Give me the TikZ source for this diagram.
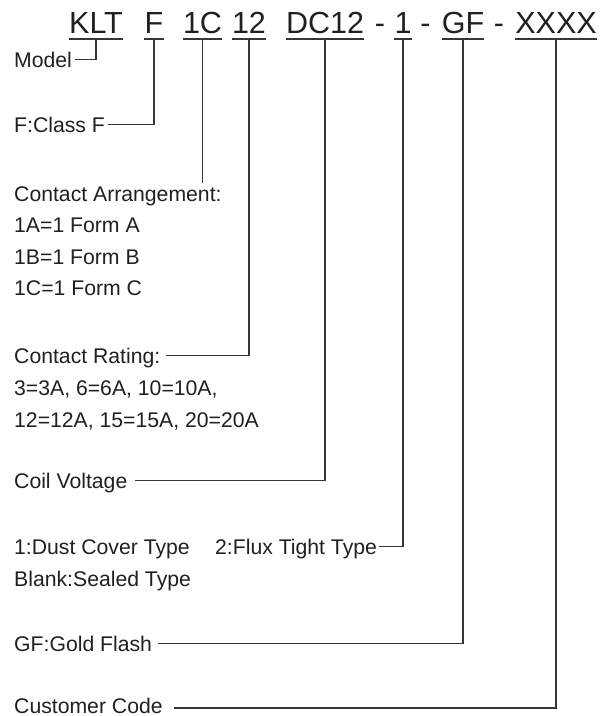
\documentclass[tikz,border=0pt]{standalone}
\usepackage{fontspec}
\setmainfont{Liberation Sans}
\usepackage{xcolor}
\usetikzlibrary{positioning}
\definecolor{ink}{HTML}{231F20}

\begin{document}
\begin{tikzpicture}[x=1pt, y=-1pt,
  code/.style={inner sep=0pt, anchor=base, text=ink, font=\fontsize{30.5}{36}\selectfont},
  desc/.style={inner sep=0pt, anchor=base west, text=ink, font=\fontsize{21.2}{25}\selectfont},
  lead/.style={line width=1.1pt, draw=ink!90},
]
\useasboundingbox (0,0) rectangle (612,716);
% part number
\node[code] (klt)  at (96,33)    {KLT};
\node[code] (cls)  at (154,33)   {F};
\node[code] (arr)  at (202.5,33) {1C};
\node[code] (rat)  at (249,33)   {12};
\node[code] (coil) at (325,33)   {DC12};
\node[code] (dsh1) at (380,33)   {-};
\node[code] (enc)  at (403,33)   {1};
\node[code] (dsh2) at (425.5,33) {-};
\node[code] (plat) at (463,33)   {GF};
\node[code] (dsh3) at (499,33)   {-};
\node[code] (cust) at (556,33)   {XXXX};
\foreach \n in {klt,cls,arr,rat,coil,enc,plat,cust} {
  \draw[lead] ([yshift=-6pt]\n.base west) -- ([yshift=-6pt]\n.base east);
  \coordinate (\n-u) at ([yshift=-6pt]\n.base);
}
% descriptions
\node[desc] (model) at (14,67)  {Model};
\node[desc] (class) at (14,132) {F:Class F};
\node[desc] (arrange) at (14,201) {Contact Arrangement:};
\node[desc, below=31.5pt of arrange.base west, anchor=base west] (forma) {1A=1 Form A};
\node[desc, below=31.5pt of forma.base west, anchor=base west] (formb) {1B=1 Form B};
\node[desc, below=31.5pt of formb.base west, anchor=base west] (formc) {1C=1 Form C};
\node[desc] (rating) at (14,363) {Contact Rating:};
\node[desc, below=32pt of rating.base west, anchor=base west] (ratea) {3=3A, 6=6A, 10=10A,};
\node[desc, below=32pt of ratea.base west, anchor=base west] (rateb) {12=12A, 15=15A, 20=20A};
\node[desc] (voltage) at (14,488) {Coil Voltage};
\node[desc] (dust) at (14,554) {1:Dust Cover Type};
\node[desc] (flux) at ([xshift=25pt]dust.base east) {2:Flux Tight Type};
\node[desc, below=32pt of dust.base west, anchor=base west] (sealed) {Blank:Sealed Type};
\node[desc] (gold) at (14,651) {GF:Gold Flash};
\node[desc] (customer) at (14,713) {Customer Code};
% leaders
\draw[lead] (klt-u)  |- ([xshift=3pt,yshift=7.5pt]model.base east);
\draw[lead] (cls-u)  |- ([xshift=3pt,yshift=7.5pt]class.base east);
\draw[lead] (arr-u)  -- ([yshift=3pt]arr-u |- arrange.north);
\draw[lead] (rat-u)  |- ([xshift=5pt,yshift=7.5pt]rating.base east);
\draw[lead] (coil-u) |- ([xshift=7pt,yshift=7.5pt]voltage.base east);
\draw[lead] (enc-u)  |- ([xshift=2pt,yshift=7.5pt]flux.base east);
\draw[lead] (plat-u) |- ([xshift=6pt,yshift=7.5pt]gold.base east);
\draw[lead] (cust-u) |- ([xshift=11pt,yshift=5pt]customer.base east);
\end{tikzpicture}
\end{document}
